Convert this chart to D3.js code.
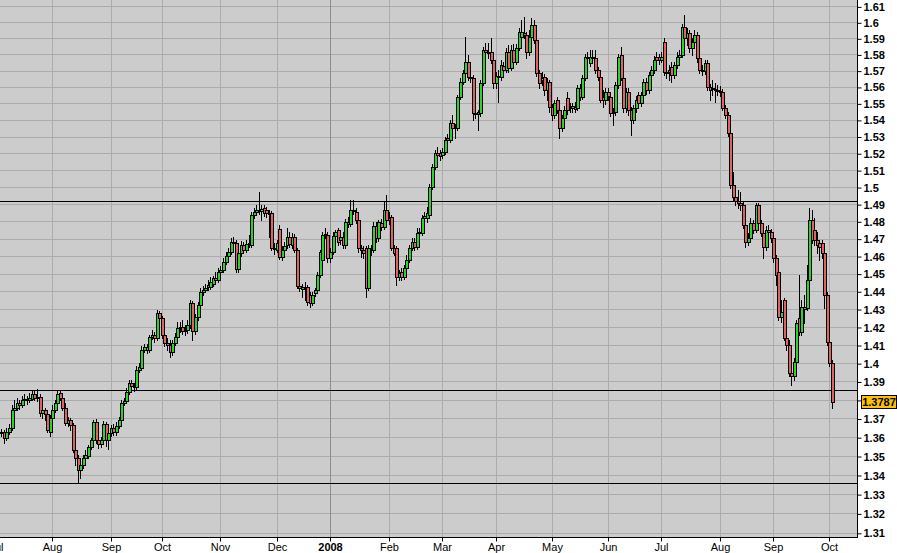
<!DOCTYPE html>
<html><head><meta charset="utf-8">
<script src="https://cdn.jsdelivr.net/npm/d3@7"></script>
<style>body{margin:0;background:#fff}svg{display:block}</style>
</head><body><svg id="c" width="897" height="553"></svg>
<script>
const openP = [1.3615,
1.3622,1.3628,1.3628,1.3596,1.3628,1.3649,1.3746,1.3756,1.3783,1.3773,
1.3799,1.3805,1.3799,1.3805,1.3832,1.3810,1.3816,1.3730,1.3746,1.3724,
1.3628,1.3703,1.3746,1.3783,1.3838,1.3810,1.3756,1.3676,1.3692,1.3665,
1.3532,1.3489,1.3426,1.3453,1.3489,1.3500,1.3548,1.3585,1.3681,1.3585,
1.3564,1.3585,1.3671,1.3585,1.3622,1.3649,1.3628,1.3660,1.3692,1.3783,
1.3794,1.3843,1.3892,1.3876,1.3870,1.3963,1.3974,1.4073,1.4089,1.4073,
1.4144,1.4156,1.4139,1.4278,1.4250,1.4156,1.4111,1.4100,1.4062,1.4111,
1.4144,1.4194,1.4200,1.4178,1.4183,1.4211,1.4334,1.4178,1.4256,1.4323,
1.4396,1.4407,1.4436,1.4424,1.4441,1.4475,1.4464,1.4509,1.4520,1.4566,
1.4600,1.4623,1.4680,1.4675,1.4526,1.4617,1.4663,1.4634,1.4669,1.4663,
1.4837,1.4854,1.4866,1.4860,1.4877,1.4866,1.4848,1.4848,1.4646,1.4634,
1.4756,1.4594,1.4634,1.4663,1.4709,1.4663,1.4709,1.4634,1.4430,1.4413,
1.4424,1.4424,1.4379,1.4334,1.4391,1.4407,1.4492,1.4577,1.4721,1.4721,
1.4589,1.4623,1.4715,1.4750,1.4692,1.4709,1.4663,1.4796,1.4784,1.4866,
1.4854,1.4808,1.4646,1.4634,1.4646,1.4419,1.4640,1.4634,1.4773,1.4703,
1.4790,1.4767,1.4866,1.4819,1.4825,1.4646,1.4646,1.4481,1.4509,1.4481,
1.4532,1.4577,1.4646,1.4680,1.4652,1.4732,1.4732,1.4819,1.4819,1.4837,
1.5001,1.5118,1.5201,1.5201,1.5189,1.5207,1.5291,1.5279,1.5381,1.5351,
1.5351,1.5538,1.5630,1.5685,1.5753,1.5661,1.5655,1.5442,1.5436,1.5442,
1.5624,1.5827,1.5815,1.5815,1.5765,1.5624,1.5667,1.5661,1.5728,1.5704,
1.5815,1.5716,1.5827,1.5753,1.5840,1.5908,1.5933,1.5921,1.5815,1.5908,
1.5983,1.5889,1.5685,1.5642,1.5661,1.5581,1.5630,1.5478,1.5430,1.5520,
1.5460,1.5351,1.5411,1.5532,1.5478,1.5472,1.5478,1.5472,1.5593,1.5538,
1.5655,1.5784,1.5747,1.5784,1.5778,1.5704,1.5661,1.5538,1.5520,1.5569,
1.5538,1.5442,1.5448,1.5612,1.5796,1.5655,1.5472,1.5569,1.5460,1.5399,
1.5472,1.5551,1.5502,1.5551,1.5630,1.5581,1.5673,1.5704,1.5784,1.5784,
1.5765,1.5877,1.5691,1.5691,1.5722,1.5673,1.5735,1.5784,1.5796,1.5971,
1.5902,1.5933,1.5840,1.5877,1.5921,1.5778,1.5704,1.5698,1.5747,1.5599,
1.5593,1.5587,1.5581,1.5575,1.5569,1.5472,1.5430,1.5321,1.5012,1.4942,
1.4918,1.4906,1.4895,1.4779,1.4680,1.4703,1.4790,1.4750,1.4895,1.4790,
1.4732,1.4652,1.4750,1.4738,1.4703,1.4589,1.4509,1.4256,1.4351,1.4139,
1.4100,1.3946,1.3930,1.4007,1.4250,1.4172,1.4312,1.4306,1.4464,1.4808,
1.4750,1.4692,1.4675,1.4675,1.4617,1.4379,1.4117,1.4001];

const highP = [1.3649,
1.3649,1.3644,1.3638,1.3649,1.3671,1.3773,1.3799,1.3810,1.3799,1.3821,
1.3832,1.3821,1.3838,1.3848,1.3854,1.3859,1.3832,1.3773,1.3756,1.3735,
1.3719,1.3773,1.3799,1.3848,1.3848,1.3821,1.3783,1.3708,1.3703,1.3676,
1.3543,1.3505,1.3479,1.3505,1.3532,1.3559,1.3596,1.3692,1.3697,1.3606,
1.3601,1.3687,1.3681,1.3638,1.3665,1.3671,1.3681,1.3708,1.3799,1.3810,
1.3865,1.3908,1.3908,1.3892,1.3985,1.4001,1.4095,1.4106,1.4106,1.4156,
1.4183,1.4172,1.4295,1.4289,1.4261,1.4172,1.4139,1.4128,1.4128,1.4167,
1.4228,1.4228,1.4239,1.4211,1.4239,1.4351,1.4345,1.4273,1.4340,1.4419,
1.4430,1.4441,1.4464,1.4481,1.4486,1.4509,1.4532,1.4543,1.4589,1.4623,
1.4646,1.4703,1.4709,1.4692,1.4634,1.4686,1.4680,1.4692,1.4721,1.4854,
1.4877,1.4895,1.4971,1.4895,1.4895,1.4883,1.4866,1.4860,1.4675,1.4692,
1.4779,1.4657,1.4680,1.4761,1.4738,1.4732,1.4727,1.4646,1.4452,1.4441,
1.4452,1.4436,1.4396,1.4396,1.4419,1.4509,1.4634,1.4738,1.4761,1.4738,
1.4646,1.4738,1.4750,1.4761,1.4727,1.4738,1.4813,1.4825,1.4924,1.4924,
1.4877,1.4819,1.4663,1.4657,1.4657,1.4663,1.4663,1.4796,1.4796,1.4808,
1.4813,1.4912,1.4954,1.4854,1.4837,1.4663,1.4657,1.4520,1.4532,1.4549,
1.4606,1.4663,1.4703,1.4703,1.4761,1.4761,1.4837,1.4854,1.4883,1.5018,
1.5136,1.5219,1.5237,1.5219,1.5231,1.5297,1.5315,1.5399,1.5430,1.5375,
1.5551,1.5655,1.5704,1.5908,1.5796,1.5679,1.5673,1.5460,1.5460,1.5642,
1.5846,1.5871,1.5871,1.5902,1.5778,1.5691,1.5704,1.5765,1.5753,1.5840,
1.5858,1.5858,1.5865,1.5865,1.5964,1.6014,1.6033,1.5939,1.5952,1.6027,
1.6014,1.5902,1.5704,1.5691,1.5679,1.5655,1.5642,1.5496,1.5520,1.5538,
1.5478,1.5430,1.5484,1.5569,1.5502,1.5502,1.5508,1.5612,1.5618,1.5673,
1.5802,1.5815,1.5827,1.5827,1.5827,1.5722,1.5673,1.5581,1.5593,1.5593,
1.5563,1.5472,1.5630,1.5802,1.5846,1.5673,1.5593,1.5593,1.5478,1.5490,
1.5545,1.5569,1.5569,1.5649,1.5655,1.5691,1.5728,1.5790,1.5815,1.5802,
1.5815,1.5902,1.5716,1.5735,1.5753,1.5753,1.5815,1.5827,1.5989,1.6046,
1.5964,1.5952,1.5902,1.5952,1.5939,1.5796,1.5735,1.5765,1.5765,1.5618,
1.5642,1.5624,1.5612,1.5605,1.5587,1.5490,1.5448,1.5339,1.5088,1.4983,
1.4983,1.4971,1.4912,1.4796,1.4732,1.4819,1.4808,1.4906,1.4906,1.4808,
1.4750,1.4773,1.4779,1.4756,1.4721,1.4606,1.4520,1.4351,1.4362,1.4183,
1.4128,1.3990,1.4029,1.4239,1.4492,1.4351,1.4379,1.4549,1.4877,1.4866,
1.4819,1.4738,1.4692,1.4692,1.4634,1.4396,1.4183,1.4018];

const lowP = [1.3606,
1.3601,1.3606,1.3569,1.3585,1.3617,1.3638,1.3730,1.3746,1.3751,1.3762,
1.3783,1.3778,1.3789,1.3799,1.3799,1.3794,1.3713,1.3703,1.3692,1.3628,
1.3606,1.3692,1.3735,1.3778,1.3799,1.3746,1.3665,1.3660,1.3638,1.3521,
1.3453,1.3363,1.3384,1.3437,1.3468,1.3489,1.3537,1.3574,1.3569,1.3543,
1.3548,1.3574,1.3553,1.3537,1.3606,1.3612,1.3612,1.3649,1.3681,1.3773,
1.3783,1.3832,1.3854,1.3848,1.3859,1.3952,1.3963,1.4062,1.4056,1.4062,
1.4133,1.4117,1.4128,1.4233,1.4139,1.4095,1.4073,1.4034,1.4045,1.4100,
1.4128,1.4172,1.4161,1.4156,1.4167,1.4194,1.4128,1.4161,1.4239,1.4312,
1.4379,1.4396,1.4407,1.4413,1.4430,1.4447,1.4452,1.4486,1.4509,1.4555,
1.4589,1.4611,1.4657,1.4509,1.4509,1.4600,1.4617,1.4623,1.4652,1.4652,
1.4819,1.4837,1.4843,1.4808,1.4831,1.4825,1.4709,1.4634,1.4611,1.4623,
1.4583,1.4577,1.4623,1.4646,1.4652,1.4646,1.4623,1.4419,1.4402,1.4368,
1.4351,1.4323,1.4312,1.4323,1.4374,1.4396,1.4481,1.4566,1.4703,1.4566,
1.4566,1.4611,1.4703,1.4663,1.4669,1.4646,1.4646,1.4767,1.4773,1.4843,
1.4790,1.4623,1.4594,1.4589,1.4368,1.4407,1.4606,1.4623,1.4680,1.4686,
1.4750,1.4756,1.4790,1.4784,1.4634,1.4606,1.4436,1.4464,1.4464,1.4469,
1.4520,1.4566,1.4634,1.4634,1.4640,1.4715,1.4721,1.4808,1.4796,1.4819,
1.4989,1.5107,1.5171,1.5160,1.5171,1.5195,1.5261,1.5267,1.5339,1.5291,
1.5339,1.5526,1.5618,1.5673,1.5642,1.5630,1.5399,1.5411,1.5339,1.5424,
1.5612,1.5796,1.5778,1.5747,1.5593,1.5593,1.5508,1.5642,1.5685,1.5691,
1.5691,1.5704,1.5728,1.5741,1.5827,1.5889,1.5902,1.5778,1.5796,1.5889,
1.5871,1.5667,1.5593,1.5612,1.5551,1.5520,1.5448,1.5399,1.5411,1.5442,
1.5291,1.5333,1.5393,1.5436,1.5448,1.5448,1.5448,1.5460,1.5520,1.5526,
1.5642,1.5753,1.5728,1.5753,1.5685,1.5642,1.5508,1.5478,1.5496,1.5520,
1.5424,1.5369,1.5430,1.5593,1.5642,1.5448,1.5448,1.5430,1.5309,1.5381,
1.5448,1.5484,1.5484,1.5532,1.5557,1.5563,1.5655,1.5685,1.5741,1.5741,
1.5753,1.5673,1.5655,1.5642,1.5630,1.5655,1.5716,1.5765,1.5784,1.5877,
1.5858,1.5815,1.5796,1.5858,1.5753,1.5685,1.5673,1.5679,1.5581,1.5520,
1.5551,1.5508,1.5551,1.5545,1.5460,1.5411,1.5303,1.4995,1.4924,1.4895,
1.4877,1.4866,1.4761,1.4652,1.4663,1.4692,1.4732,1.4738,1.4773,1.4715,
1.4589,1.4634,1.4715,1.4680,1.4566,1.4436,1.4239,1.4228,1.4128,1.4073,
1.3930,1.3881,1.3908,1.3990,1.4156,1.4156,1.4222,1.4295,1.4436,1.4675,
1.4663,1.4617,1.4577,1.4589,1.4306,1.4100,1.3985,1.3756];

const closeP = [1.3622,
1.3628,1.3622,1.3596,1.3628,1.3649,1.3746,1.3756,1.3783,1.3773,1.3799,
1.3805,1.3799,1.3810,1.3832,1.3810,1.3816,1.3730,1.3746,1.3724,1.3638,
1.3703,1.3746,1.3783,1.3832,1.3810,1.3756,1.3676,1.3692,1.3665,1.3532,
1.3489,1.3426,1.3453,1.3489,1.3505,1.3548,1.3585,1.3681,1.3585,1.3564,
1.3585,1.3671,1.3585,1.3622,1.3649,1.3628,1.3660,1.3692,1.3783,1.3794,
1.3843,1.3892,1.3876,1.3870,1.3963,1.3979,1.4073,1.4089,1.4073,1.4144,
1.4156,1.4139,1.4278,1.4250,1.4156,1.4111,1.4100,1.4062,1.4111,1.4144,
1.4194,1.4200,1.4178,1.4183,1.4211,1.4334,1.4178,1.4256,1.4323,1.4396,
1.4407,1.4419,1.4424,1.4452,1.4475,1.4464,1.4509,1.4520,1.4566,1.4600,
1.4623,1.4680,1.4675,1.4526,1.4617,1.4663,1.4634,1.4669,1.4675,1.4837,
1.4854,1.4866,1.4860,1.4872,1.4848,1.4848,1.4843,1.4646,1.4640,1.4675,
1.4594,1.4634,1.4657,1.4709,1.4669,1.4709,1.4634,1.4430,1.4419,1.4424,
1.4419,1.4340,1.4334,1.4379,1.4407,1.4492,1.4623,1.4721,1.4727,1.4589,
1.4623,1.4715,1.4738,1.4680,1.4709,1.4663,1.4796,1.4784,1.4866,1.4860,
1.4808,1.4646,1.4634,1.4617,1.4419,1.4646,1.4634,1.4773,1.4703,1.4796,
1.4767,1.4866,1.4808,1.4808,1.4646,1.4617,1.4481,1.4503,1.4481,1.4532,
1.4577,1.4646,1.4680,1.4652,1.4732,1.4738,1.4819,1.4831,1.4848,1.5001,
1.5118,1.5201,1.5189,1.5183,1.5207,1.5279,1.5279,1.5381,1.5351,1.5357,
1.5538,1.5630,1.5685,1.5753,1.5661,1.5655,1.5442,1.5436,1.5448,1.5624,
1.5827,1.5815,1.5809,1.5765,1.5624,1.5667,1.5661,1.5735,1.5704,1.5815,
1.5716,1.5827,1.5753,1.5840,1.5939,1.5939,1.5921,1.5815,1.5908,1.5983,
1.5889,1.5685,1.5624,1.5655,1.5581,1.5630,1.5478,1.5430,1.5502,1.5460,
1.5351,1.5411,1.5460,1.5460,1.5472,1.5484,1.5466,1.5593,1.5538,1.5655,
1.5784,1.5778,1.5784,1.5778,1.5704,1.5661,1.5520,1.5520,1.5569,1.5545,
1.5442,1.5448,1.5612,1.5784,1.5655,1.5472,1.5569,1.5460,1.5399,1.5472,
1.5520,1.5502,1.5551,1.5630,1.5581,1.5673,1.5704,1.5765,1.5765,1.5765,
1.5784,1.5691,1.5685,1.5704,1.5673,1.5735,1.5784,1.5796,1.5971,1.5902,
1.5933,1.5840,1.5877,1.5921,1.5778,1.5704,1.5698,1.5747,1.5599,1.5581,
1.5587,1.5581,1.5575,1.5569,1.5472,1.5430,1.5321,1.5012,1.4942,1.4918,
1.4906,1.4895,1.4779,1.4680,1.4703,1.4790,1.4750,1.4895,1.4790,1.4732,
1.4652,1.4750,1.4738,1.4703,1.4589,1.4492,1.4256,1.4284,1.4139,1.4100,
1.3946,1.3930,1.4007,1.4222,1.4172,1.4312,1.4301,1.4464,1.4808,1.4692,
1.4692,1.4663,1.4652,1.4617,1.4379,1.4117,1.4001,1.3787];

const firstDay = "2007-07-02";
const lastDay = "2008-10-02";
const monthLabels = ["Jul","Aug","Sep","Oct","Nov","Dec","2008","Feb","Mar","Apr","May","Jun","Jul","Aug","Sep","Oct"];
const priceTicks = [1.31,1.32,1.33,1.34,1.35,1.36,1.37,1.38,1.39,1.4,1.41,1.42,1.43,1.44,1.45,1.46,1.47,1.48,1.49,1.5,1.51,1.52,1.53,1.54,1.55,1.56,1.57,1.58,1.59,1.6,1.61];
const levelLines = [1.4918, 1.3853, 1.3356];
const lastPrice = 1.3787;

const W = 897, H = 553, plotR = 857, plotB = 537;
const FONT = "'Liberation Sans', Arial, sans-serif";
const parse = d3.timeParse("%Y-%m-%d");
const fmt = d3.timeFormat("%Y-%m-%d");
const days = d3.timeDay.range(parse(firstDay), d3.timeDay.offset(parse(lastDay), 1))
  .filter(d => d.getDay() !== 0 && d.getDay() !== 6);
const n = Math.min(days.length, closeP.length);
const data = d3.range(n).map(i => ({key: fmt(days[i]), date: days[i], o: openP[i], h: highP[i], l: lowP[i], c: closeP[i]}));

const step = 2.548;
const x = d3.scaleBand().domain(data.map(d => d.key))
  .range([-3.75 - step/2, -3.75 - step/2 + step*n]).padding(0);
const cx = k => x(k) + x.bandwidth()/2;
const y = d3.scaleLog().domain([1.31, 1.61]).range([532.8, 6.4]);

const svg = d3.select("#c");
svg.append("rect").attr("width", W).attr("height", H).attr("fill", "#fff");
svg.append("rect").attr("x",0).attr("y",0).attr("width",plotR).attr("height",plotB).attr("fill","#cccccc");

const monthStarts = [];
data.forEach((d,i) => {
  if (i === 0 || d.date.getMonth() !== data[i-1].date.getMonth()) monthStarts.push(d.key);
});

const grid = svg.append("g");
priceTicks.forEach(p => {
  const yy = Math.round(y(p)) + 0.5;
  grid.append("line").attr("x1",0).attr("x2",plotR).attr("y1",yy).attr("y2",yy)
    .attr("stroke","#acacac").attr("stroke-width",1);
});
monthStarts.forEach((k,j) => {
  const xx = Math.round(cx(k)) + 0.5;
  grid.append("line").attr("x1",xx).attr("x2",xx).attr("y1",0).attr("y2",plotB)
    .attr("stroke", monthLabels[j] === "2008" ? "#8c8c8c" : "#acacac").attr("stroke-width",1);
});

levelLines.forEach(p => {
  const yy = Math.round(y(p)) + 0.5;
  svg.append("line").attr("x1",0).attr("x2",plotR).attr("y1",yy).attr("y2",yy)
    .attr("stroke","#000").attr("stroke-width",1);
});

svg.append("clipPath").attr("id","clip").append("rect").attr("width",plotR).attr("height",plotB);
const cg = svg.append("g").attr("clip-path","url(#clip)");
const candle = cg.selectAll("g.cd").data(data).join("g").attr("class","cd");
candle.append("line")
  .attr("x1", d => Math.round(cx(d.key)) + 0.5).attr("x2", d => Math.round(cx(d.key)) + 0.5)
  .attr("y1", d => Math.round(y(d.h))).attr("y2", d => Math.round(y(d.l)) + 1)
  .attr("stroke","#000").attr("stroke-width",1);
candle.append("rect")
  .attr("x", d => Math.round(cx(d.key)) - 0.5)
  .attr("width", 3)
  .attr("y", d => Math.round(y(Math.max(d.o,d.c))) + 0.5)
  .attr("height", d => Math.max(1, Math.round(y(Math.min(d.o,d.c))) - Math.round(y(Math.max(d.o,d.c)))))
  .attr("fill", d => d.c >= d.o ? "#2bd42b" : "#e06262")
  .attr("stroke","#000").attr("stroke-width",1);

svg.append("line").attr("x1",plotR+0.5).attr("x2",plotR+0.5).attr("y1",0).attr("y2",plotB+1).attr("stroke","#000");
svg.append("line").attr("x1",0).attr("x2",plotR+1).attr("y1",plotB+0.5).attr("y2",plotB+0.5).attr("stroke","#000");

// right axis (label hidden where the last-price box sits)
const ly = Math.round(y(lastPrice));
const ya = svg.append("g").attr("transform",`translate(${plotR+0.5},0.5)`)
  .call(d3.axisRight(y).tickValues(priceTicks).tickFormat(d => String(+d.toFixed(2))).tickSize(4).tickSizeOuter(0));
ya.select(".domain").remove();
ya.selectAll(".tick line").attr("stroke","#000");
ya.selectAll(".tick text").attr("x",6).attr("font-family",FONT)
  .attr("font-size",11).attr("font-weight","bold").attr("fill","#000")
  .attr("display", d => Math.abs(y(d) - ly) < 10 ? "none" : null);

const xa = svg.append("g").attr("transform",`translate(0.5,${plotB+0.5})`)
  .call(d3.axisBottom(x).tickValues(monthStarts).tickFormat((k) => monthLabels[monthStarts.indexOf(k)]).tickSize(4).tickSizeOuter(0));
xa.select(".domain").remove();
xa.selectAll(".tick").attr("transform", k => `translate(${Math.round(cx(k))},0)`);
xa.selectAll(".tick line").attr("stroke","#000");
xa.selectAll(".tick text").attr("y",6).attr("font-family",FONT)
  .attr("font-size",11).attr("fill","#000")
  .attr("font-weight", k => monthLabels[monthStarts.indexOf(k)] === "2008" ? "bold" : "normal");

svg.append("rect").attr("x",861.5).attr("y",ly-6.5).attr("width",35).attr("height",13)
  .attr("fill","#ffc000").attr("stroke","#000").attr("stroke-width",1);
svg.append("text").attr("x",879).attr("y",ly).attr("dy","0.36em").attr("text-anchor","middle")
  .attr("font-family",FONT).attr("font-size",11).attr("font-weight","bold")
  .attr("fill","#000").text(lastPrice.toFixed(4));
</script></body></html>
